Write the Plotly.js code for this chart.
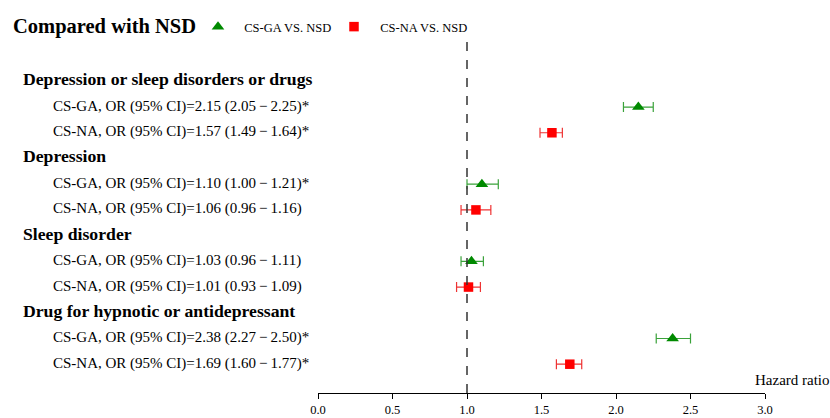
<!DOCTYPE html>
<html><head><meta charset="utf-8">
<script src="https://cdn.plot.ly/plotly-3.0.1.min.js"></script>
<style>body{margin:0;background:#fff}#chart{width:830px;height:418px}</style>
</head><body><div id="chart"></div>
<script>
const groups = ["Depression or sleep disorders or drugs", "Depression", "Sleep disorder", "Drug for hypnotic or antidepressant"];
const gaOR = [2.15, 1.10, 1.03, 2.38];
const gaLo = [2.05, 1.00, 0.96, 2.27];
const gaHi = [2.25, 1.21, 1.11, 2.50];
const gaSig = [true, true, false, true];
const naOR = [1.57, 1.06, 1.01, 1.69];
const naLo = [1.49, 0.96, 0.93, 1.60];
const naHi = [1.64, 1.16, 1.09, 1.77];
const naSig = [true, false, false, true];
const xTicks = [0, 0.5, 1.0, 1.5, 2.0, 2.5, 3.0];
const xTickLabels = ["0.0", "0.5", "1.0", "1.5", "2.0", "2.5", "3.0"];

const gaY = groups.map((g, i) => i * 3 + 1);
const naY = groups.map((g, i) => i * 3 + 2);
const hdrY = groups.map((g, i) => i * 3);

const fmt = v => v.toFixed(2);
const lbl = (name, o, l, h, s) => name + ", OR (95% CI)=" + fmt(o) + " (" + fmt(l) + "\u2009\u2212\u2009" + fmt(h) + ")" + (s ? "*" : "");

const traces = [
  {
    type: "scatter", mode: "markers", name: "\u00a0\u00a0CS-GA VS. NSD",
    x: gaOR, y: gaY,
    marker: {symbol: "triangle-up", size: 11, color: "#008a00"},
    error_x: {type: "data", symmetric: false,
      array: gaOR.map((v, i) => gaHi[i] - v), arrayminus: gaOR.map((v, i) => v - gaLo[i]),
      color: "#3aa23a", thickness: 1.2, width: 5}
  },
  {
    type: "scatter", mode: "markers", name: "\u00a0\u00a0CS-NA VS. NSD",
    x: naOR, y: naY,
    marker: {symbol: "square", size: 9.5, color: "#ff0000"},
    error_x: {type: "data", symmetric: false,
      array: naOR.map((v, i) => naHi[i] - v), arrayminus: naOR.map((v, i) => v - naLo[i]),
      color: "#ee3333", thickness: 1.2, width: 5}
  }
];

const L = 318, W = 447;
const px = p => (p - L) / W;
const annotations = [];
groups.forEach((g, i) => {
  annotations.push({xref: "paper", yref: "y", x: px(21), y: hdrY[i], xanchor: "left", yanchor: "middle", yshift: 2,
    text: "<b>" + g + "</b>", showarrow: false, font: {family: "Liberation Serif", size: 17.7, color: "#000"}});
  annotations.push({xref: "paper", yref: "y", x: px(51), y: gaY[i], xanchor: "left", yanchor: "middle", yshift: 1,
    text: lbl("CS-GA", gaOR[i], gaLo[i], gaHi[i], gaSig[i]), showarrow: false, font: {family: "Liberation Serif", size: 15, color: "#000"}});
  annotations.push({xref: "paper", yref: "y", x: px(51), y: naY[i], xanchor: "left", yanchor: "middle", yshift: 1,
    text: lbl("CS-NA", naOR[i], naLo[i], naHi[i], naSig[i]), showarrow: false, font: {family: "Liberation Serif", size: 15, color: "#000"}});
});
annotations.push({xref: "paper", yref: "paper", x: px(753), y: 0, xanchor: "left", yanchor: "bottom", yshift: 3,
  text: "Hazard ratio", showarrow: false, font: {family: "Liberation Serif", size: 15, color: "#000"}});

const layout = {
  width: 830, height: 418,
  paper_bgcolor: "#fff", plot_bgcolor: "#fff",
  margin: {l: L, r: 830 - L - W, t: 38, b: 25},
  title: {text: "<b>Compared with NSD</b>", xref: "container", yref: "container", x: 13 / 830, xanchor: "left",
    y: 1 - 26 / 418, yanchor: "middle", font: {family: "Liberation Serif", size: 20.5, color: "#000"}},
  showlegend: true,
  legend: {orientation: "h", x: px(198), xanchor: "left", y: 1 - 27 / 418, yref: "container", yanchor: "middle",
    font: {family: "Liberation Serif", size: 12.5, color: "#000"}, itemwidth: 30, entrywidth: 91, entrywidthmode: "pixels",
    bgcolor: "rgba(0,0,0,0)"},
  xaxis: {range: [0, 3], tickvals: xTicks, ticktext: xTickLabels, showgrid: false, zeroline: false,
    showline: true, linecolor: "#000", linewidth: 1, ticks: "outside", ticklen: 5, tickcolor: "#000",
    tickfont: {family: "Liberation Serif", size: 12.5, color: "#000"}, fixedrange: true},
  yaxis: {range: [12.12, -1.53], showgrid: false, zeroline: false, showticklabels: false, showline: false, ticks: ""},
  shapes: [{type: "line", xref: "x", yref: "paper", x0: 1, x1: 1, y0: 0, y1: 1,
    line: {color: "#333", width: 1.5, dash: "dash"}}],
  annotations: annotations
};
Plotly.newPlot("chart", traces, layout, {displayModeBar: false, staticPlot: true});
</script></body></html>
